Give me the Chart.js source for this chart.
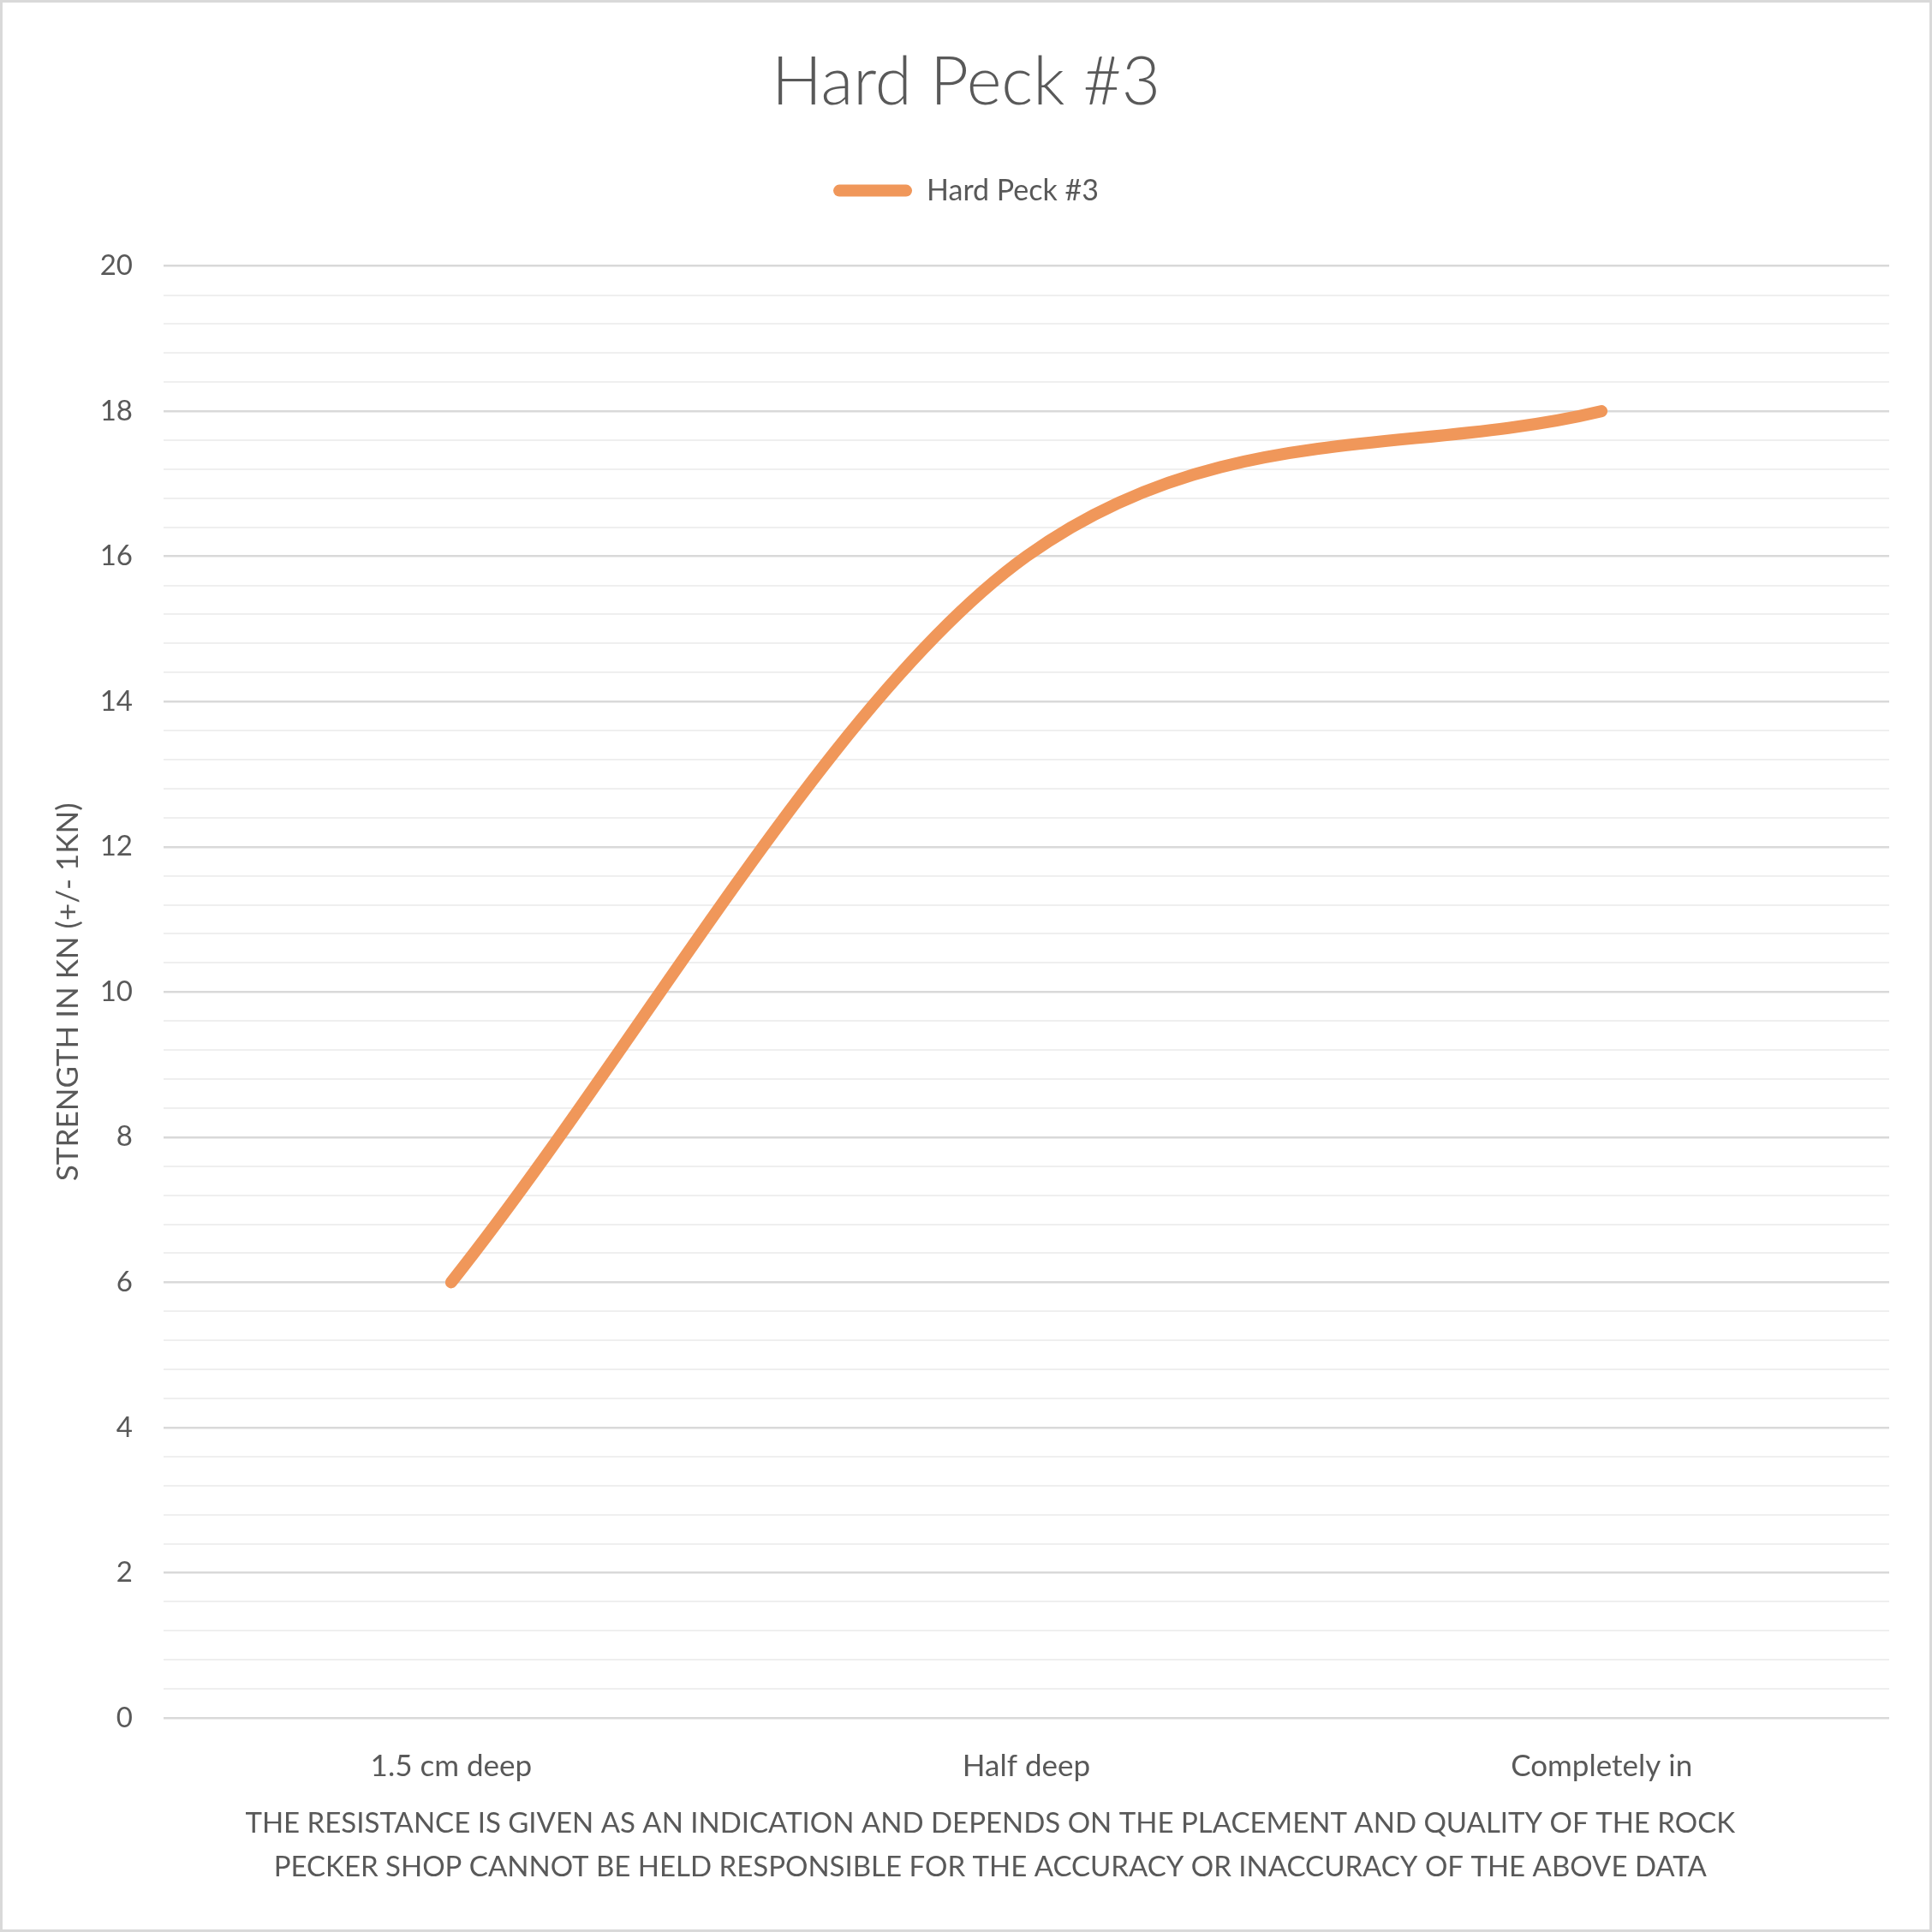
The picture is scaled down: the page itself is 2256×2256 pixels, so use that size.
<!DOCTYPE html>
<html>
<head>
<meta charset="utf-8">
<script src="https://cdn.jsdelivr.net/npm/chart.js@4"></script>
<style>
    html, body { margin: 0; padding: 0; background: #ffffff; }
    #wrap { position: relative; width: 2256px; height: 2256px; box-sizing: border-box; border: 3px solid #d9d9d9; }
</style>
</head>
<body>
<div id="wrap"><canvas id="chart"></canvas></div>
<script>
// Chart data
const categories = ['1.5 cm deep', 'Half deep', 'Completely in'];
const seriesName = 'Hard Peck #3';
const strength = [6, 16, 18];
const yMin = 0;
const yMax = 20;
const yMinorStep = 0.4;
const yLabelStep = 2;
const xTitle = [
    'THE RESISTANCE IS GIVEN AS AN INDICATION AND DEPENDS ON THE PLACEMENT AND QUALITY OF THE ROCK',
    'PECKER SHOP CANNOT BE HELD RESPONSIBLE FOR THE ACCURACY OR INACCURACY OF THE ABOVE DATA'
];
const yTitle = 'STRENGTH IN KN (+/- 1KN)';

const textColor = '#595959';
const lineColor = '#F0975A';
const font = 'Lato';

function isLabelTick(v) {
    const r = v / yLabelStep;
    return Math.abs(r - Math.round(r)) < 1e-6;
}

// the x title sits a bit left of the plot centre in the original
const xTitleShift = ' '.repeat(10);

const ctx = document.getElementById('chart').getContext('2d');
new Chart(ctx, {
    type: 'line',
    data: {
        labels: categories,
        datasets: [{
            label: seriesName,
            data: strength,
            borderColor: lineColor,
            backgroundColor: lineColor,
            borderWidth: 14,
            borderCapStyle: 'round',
            borderJoinStyle: 'round',
            pointRadius: 0,
            pointHoverRadius: 0,
            cubicInterpolationMode: 'monotone',
            fill: false
        }]
    },
    options: {
        responsive: true,
        maintainAspectRatio: false,
        animation: false,
        layout: {
            padding: { left: 47, right: 47, top: 0, bottom: 0 }
        },
        plugins: {
            title: {
                display: true,
                text: seriesName,
                color: textColor,
                font: { family: font, size: 78, weight: 300, lineHeight: 1.2 },
                padding: { top: 47, bottom: 19 }
            },
            subtitle: {
                display: true,
                text: '',
                weight: 500,
                font: { size: 1, lineHeight: 1 },
                padding: { top: 0, bottom: 60 }
            },
            legend: {
                display: true,
                labels: {
                    color: textColor,
                    font: { family: font, size: 34 },
                    boxWidth: 92,
                    boxHeight: 14,
                    useBorderRadius: true,
                    borderRadius: 7,
                    padding: 43,
                    generateLabels: function (chart) {
                        const items = Chart.defaults.plugins.legend.labels.generateLabels(chart);
                        return items.map(function (it) {
                            it.lineWidth = 0;
                            it.fillStyle = lineColor;
                            it.borderRadius = 7;
                            return it;
                        });
                    }
                }
            },
            tooltip: { enabled: false }
        },
        scales: {
            x: {
                offset: true,
                grid: { display: false },
                border: { display: false },
                ticks: {
                    color: textColor,
                    font: { family: font, size: 35 },
                    padding: 28,
                    maxRotation: 0
                },
                title: {
                    display: true,
                    text: xTitle.map(function (t) { return t + xTitleShift; }),
                    color: textColor,
                    font: { family: font, size: 33, lineHeight: 1.55 },
                    padding: { top: 20, bottom: 47 }
                },
                afterFit: function (scale) { scale.height = 2250 - 2003; }
            },
            y: {
                min: yMin,
                max: yMax,
                border: { display: false },
                grid: {
                    drawTicks: false,
                    color: function (c) { return isLabelTick(c.tick.value) ? '#d9d9d9' : '#efefef'; },
                    lineWidth: function (c) { return isLabelTick(c.tick.value) ? 2.5 : 2; }
                },
                ticks: {
                    stepSize: yMinorStep,
                    autoSkip: false,
                    color: textColor,
                    font: { family: font, size: 33 },
                    padding: 36,
                    callback: function (v) { return isLabelTick(v) ? String(Math.round(v)) : ''; }
                },
                title: {
                    display: true,
                    text: yTitle,
                    color: textColor,
                    font: { family: font, size: 35 },
                    padding: { top: 9, bottom: 0 }
                },
                afterFit: function (scale) { scale.width = 188 - 47; }
            }
        }
    }
});
</script>
</body>
</html>
